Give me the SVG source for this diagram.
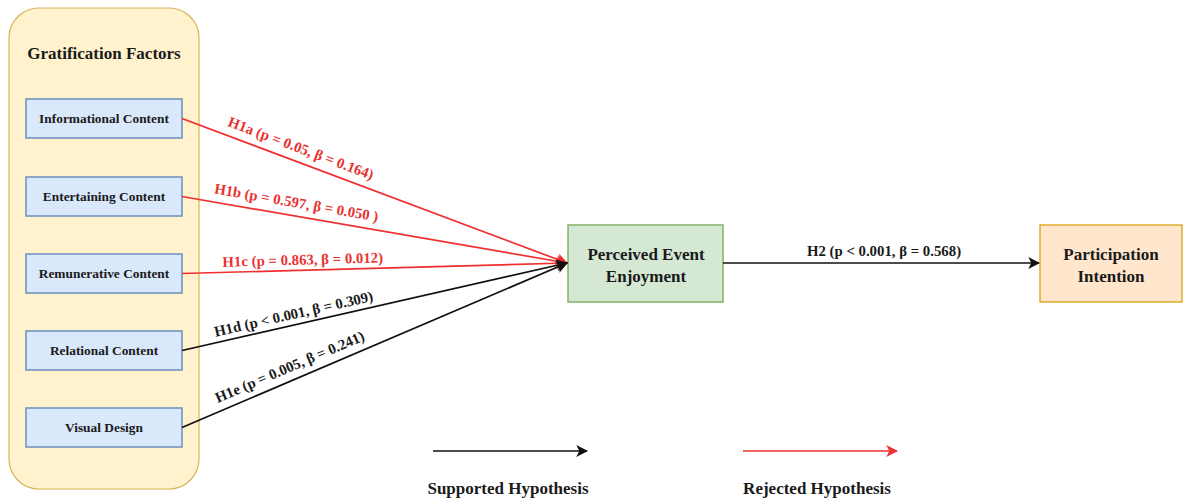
<svg xmlns="http://www.w3.org/2000/svg" width="1190" height="500" viewBox="0 0 1190 500">
  <defs>
    <marker id="arrow-black" viewBox="0 0 10 10" refX="9" refY="5" markerWidth="7" markerHeight="7" markerUnits="strokeWidth" orient="auto">
      <path d="M0,0 L10,5 L0,10 L2.5,5 Z" fill="#111111"/>
    </marker>
    <marker id="arrow-red" viewBox="0 0 10 10" refX="9" refY="5" markerWidth="7" markerHeight="7" markerUnits="strokeWidth" orient="auto">
      <path d="M0,0 L10,5 L0,10 L2.5,5 Z" fill="#ef3030"/>
    </marker>
    <style>
      text { font-family: "Liberation Serif", "Times New Roman", serif; font-weight: bold; fill: #1a1a1a; }
      .group-box { fill: #fff2cc; stroke: #d6b656; stroke-width: 1.2; }
      .factor { fill: #dae8fc; stroke: #6c8ebf; stroke-width: 1.5; }
      .factor-label { font-size: 13.4px; text-anchor: middle; }
      .mediator { fill: #d5e8d4; stroke: #82b366; stroke-width: 1.5; }
      .outcome { fill: #ffe6cc; stroke: #d79b00; stroke-width: 1.2; }
      .node-label { font-size: 17px; text-anchor: middle; }
      .edge { fill: none; stroke-width: 1.7; }
      .edge.supported { stroke: #111111; marker-end: url(#arrow-black); }
      .edge.rejected { stroke: #ef3030; marker-end: url(#arrow-red); }
      .edge-label { font-size: 14.8px; text-anchor: middle; }
      .edge-label.rejected { fill: #e83232; }
      .legend-label { font-size: 17px; text-anchor: middle; }
    </style>
  </defs>

  <rect width="1190" height="500" fill="#ffffff"/>

  <!-- Gratification factors container -->
  <g id="gratification-factors">
    <rect class="group-box" x="9" y="8" width="190" height="481" rx="30" ry="30"/>
    <text x="104" y="59" style="font-size:17px;text-anchor:middle">Gratification Factors</text>
  </g>

  <g id="informational-content">
    <rect class="factor" x="26" y="99" width="156" height="39"/>
    <text class="factor-label" x="104" y="123">Informational Content</text>
  </g>
  <g id="entertaining-content">
    <rect class="factor" x="26" y="177" width="156" height="39"/>
    <text class="factor-label" x="104" y="201">Entertaining Content</text>
  </g>
  <g id="remunerative-content">
    <rect class="factor" x="26" y="254" width="156" height="39"/>
    <text class="factor-label" x="104" y="278">Remunerative Content</text>
  </g>
  <g id="relational-content">
    <rect class="factor" x="26" y="331" width="156" height="39"/>
    <text class="factor-label" x="104" y="355">Relational Content</text>
  </g>
  <g id="visual-design">
    <rect class="factor" x="26" y="408" width="156" height="39"/>
    <text class="factor-label" x="104" y="432">Visual Design</text>
  </g>

  <g id="perceived-event-enjoyment">
    <rect class="mediator" x="568" y="225" width="155" height="77"/>
    <text class="node-label" x="646" y="260">Perceived Event</text>
    <text class="node-label" x="646" y="282">Enjoyment</text>
  </g>

  <g id="participation-intention">
    <rect class="outcome" x="1040" y="225" width="142" height="77"/>
    <text class="node-label" x="1111" y="260">Participation</text>
    <text class="node-label" x="1111" y="282">Intention</text>
  </g>

  <!-- Hypothesis paths -->
  <g id="connectors">
    <line class="edge rejected" x1="182" y1="118.5" x2="567" y2="263"/>
    <line class="edge rejected" x1="182" y1="196.5" x2="567" y2="263"/>
    <line class="edge rejected" x1="182" y1="273.5" x2="567" y2="263"/>
    <line class="edge supported" x1="182" y1="350.5" x2="567" y2="263"/>
    <line class="edge supported" x1="182" y1="427.5" x2="567" y2="263"/>
    <line class="edge supported" x1="723" y1="263" x2="1039" y2="263"/>

    <g transform="translate(296,161.3) rotate(20.57)">
      <text class="edge-label rejected" x="0" y="-9">H1a (p = 0.05, β = 0.164)</text>
    </g>
    <g transform="translate(294,215.8) rotate(9.8)">
      <text class="edge-label rejected" x="0" y="-8.5">H1b (p = 0.597, β = 0.050 )</text>
    </g>
    <g transform="translate(303,270.2) rotate(-1.56)">
      <text class="edge-label rejected" x="0" y="-5.5">H1c (p = 0.863, β = 0.012)</text>
    </g>
    <g transform="translate(296,324.6) rotate(-12.8)">
      <text class="edge-label" x="0" y="-6">H1d (p &lt; 0.001, β = 0.309)</text>
    </g>
    <g transform="translate(295,379.2) rotate(-23.1)">
      <text class="edge-label" x="0" y="-8.5">H1e (p = 0.005, β = 0.241)</text>
    </g>
    <text class="edge-label" x="884" y="256">H2 (p &lt; 0.001, β = 0.568)</text>
  </g>

  <!-- Legend -->
  <g id="legend">
    <line class="edge supported" x1="433" y1="451" x2="587" y2="451"/>
    <text class="legend-label" x="508" y="494">Supported Hypothesis</text>
    <line class="edge rejected" x1="743" y1="451" x2="897" y2="451"/>
    <text class="legend-label" x="817" y="494">Rejected Hypothesis</text>
  </g>
</svg>
